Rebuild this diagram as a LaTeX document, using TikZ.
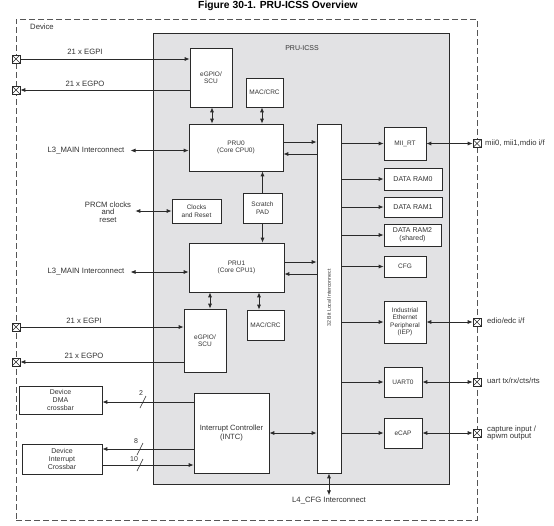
\documentclass[tikz,border=0pt]{standalone}
\usepackage{fontspec}
\setmainfont{Liberation Sans}
\usetikzlibrary{arrows.meta}
\newcommand{\fs}{\fontsize{6.5}{7.4}\selectfont}
\newcommand{\fsm}{\fontsize{7}{8}\selectfont}
\newcommand{\fsl}{\fontsize{7.7}{8.4}\selectfont}
\definecolor{ln}{HTML}{2A2A2A}
\definecolor{tx}{HTML}{333333}
\definecolor{grayfill}{HTML}{E2E2E4}
\begin{document}
\begin{tikzpicture}[x=1pt,y=-1pt,
  box/.style={draw=ln, fill=white, line width=0.7pt, align=center, font=\fs, text=tx, inner sep=1pt},
  wh/.style 2 args={minimum width=#1, minimum height=#2},
  lbl/.style={font=\fsl, text=tx, align=center, inner sep=1pt},
  arr/.style={draw=ln, line width=0.9pt, -{Latex[length=5pt,width=4.2pt]}},
  darr/.style={draw=ln, line width=0.9pt, {Latex[length=5pt,width=4.2pt]}-{Latex[length=5pt,width=4.2pt]}},
  conn/.style={draw=ln, fill=white, line width=0.6pt, minimum size=8pt, inner sep=0pt,
    path picture={\draw[ln, line width=0.5pt] (path picture bounding box.north west) -- (path picture bounding box.south east)
      (path picture bounding box.south west) -- (path picture bounding box.north east);}},
  slash/.style={draw=ln, line width=0.6pt}
]
\useasboundingbox[fill=white] (0,0) rectangle (554,525);

% title
\node[font=\bfseries\fontsize{10.3}{11}\selectfont, text=black] (title) at (278,6) {Figure 30-1. PRU-ICSS Overview};

% device dashed box
\node[draw=ln!80, dash pattern=on 6pt off 3pt, line width=0.7pt, minimum width=461pt, minimum height=501pt, inner sep=0] (device) at (246.5,269.5) {};
\node[lbl, anchor=west] (devlbl) at (29,27) {Device};

% PRU-ICSS box
\node[draw=ln, fill=grayfill, line width=1pt, minimum width=296pt, minimum height=451pt, inner sep=0] (icss) at (301,258.5) {};
\node[lbl, font=\fsm] (icsslbl) at (302,48) {PRU-ICSS};

% blocks
\node[box, wh={42pt}{59pt}] (egpioA) at (211,77.5) {eGPIO/\\SCU};
\node[box, wh={37pt}{29pt}] (macA) at (264.5,92.5) {MAC/CRC};
\node[box, wh={94pt}{47pt}] (pru0) at (236,147.5) {PRU0\\(Core CPU0)};
\node[box, wh={49pt}{24pt}] (clk) at (196.5,211) {Clocks\\and Reset};
\node[box, wh={39pt}{30pt}] (scratch) at (262.5,208) {Scratch\\PAD};
\node[box, wh={95pt}{49pt}] (pru1) at (236.5,267.5) {PRU1\\(Core CPU1)};
\node[box, wh={42pt}{63pt}] (egpioB) at (205,340.5) {eGPIO/\\SCU};
\node[box, wh={37pt}{30pt}] (macB) at (265.5,325) {MAC/CRC};
\node[box, wh={75pt}{80pt}, font=\fontsize{7.6}{8.4}\selectfont] (intc) at (231.5,433) {Interrupt Controller\\(INTC)};
\node[box, wh={24pt}{349pt}] (bus) at (329,298.5) {};
\node[font=\fontsize{5.2}{6}\selectfont, text=tx, rotate=90, inner sep=0] (buslbl) at (329,298) {32 Bit Local Interconnect};

\node[box, wh={42pt}{33pt}] (mii) at (405,143.5) {MII\_RT};
\node[box, wh={58pt}{22pt}, font=\fsm] (ram0) at (413,179) {DATA RAM0};
\node[box, wh={58pt}{20pt}, font=\fsm] (ram1) at (413,207) {DATA RAM1};
\node[box, wh={57pt}{22pt}, font=\fsm] (ram2) at (412.5,235) {DATA RAM2\\(shared)};
\node[box, wh={42pt}{21pt}] (cfg) at (405,266.5) {CFG};
\node[box, wh={42pt}{42pt}] (iep) at (405,322) {Industrial\\Ethernet\\Peripheral\\(IEP)};
\node[box, wh={38pt}{30pt}] (uart) at (403,382) {UART0};
\node[box, wh={38pt}{30pt}] (ecap) at (403,433) {eCAP};

\node[box, wh={83pt}{28pt}, font=\fsm] (dma) at (60.5,400) {Device\\DMA\\crossbar};
\node[box, wh={80pt}{30pt}, font=\fsm] (intx) at (62,459) {Device\\Interrupt\\Crossbar};

% connectors
\node[conn] (cL1) at (16,59) {};
\node[conn] (cL2) at (16,90) {};
\node[conn] (cL3) at (16,327) {};
\node[conn] (cL4) at (16,362) {};
\node[conn] (cR1) at (477,143.5) {};
\node[conn] (cR2) at (477,322) {};
\node[conn] (cR3) at (477,382) {};
\node[conn] (cR4) at (477,433) {};

% outside labels
\node[lbl] (egpiA) at (85,52) {21 x EGPI};
\node[lbl] (egpoA) at (85,84) {21 x EGPO};
\node[lbl] (l3a) at (86,150.5) {L3\_MAIN Interconnect};
\node[lbl] (prcm) at (108,212) {PRCM clocks\\[-1pt]and\\[-1pt]reset};
\node[lbl] (l3b) at (86,272) {L3\_MAIN Interconnect};
\node[lbl] (egpiB) at (84,321) {21 x EGPI};
\node[lbl] (egpoB) at (84,356) {21 x EGPO};
\node[lbl, anchor=west] (miilbl) at (484,143.5) {mii0, mii1,mdio i/f};
\node[lbl, anchor=west] (ediolbl) at (486,321) {edio/edc i/f};
\node[lbl, anchor=west] (uartlbl) at (486,381) {uart tx/rx/cts/rts};
\node[lbl, anchor=west, align=left] (caplbl) at (486,433) {capture input /\\[-1.5pt]apwm output};
\node[lbl] (l4) at (329,501) {L4\_CFG Interconnect};

% helper coordinates
\coordinate (y142) at (0,142);
\coordinate (y154) at (0,154);
\coordinate (y262) at (0,262);
\coordinate (y274) at (0,274);
\coordinate (y402) at (0,402);
\coordinate (y449) at (0,449);
\coordinate (y465) at (0,465);
\coordinate (x212) at (212,0);
\coordinate (x262) at (262,0);
\coordinate (x210) at (210,0);
\coordinate (x259) at (259,0);

% left I/O
\draw[arr] (cL1) -- (egpioA.west |- cL1);
\draw[arr] (egpioA.west |- cL2) -- (cL2);
\draw[arr] (cL3) -- (egpioB.west |- cL3);
\draw[arr] (egpioB.west |- cL4) -- (cL4);
\draw[darr, shorten <=5pt] (l3a.east) -- (pru0.west |- l3a);
\draw[darr, shorten <=5pt] (l3b.east) -- (pru1.west |- l3b);
\draw[darr, shorten <=3pt] (prcm.east |- clk) -- (clk.west);

% PRU internal
\draw[darr] (egpioA.south -| x212) -- (pru0.north -| x212);
\draw[darr] (macA.south -| x262) -- (pru0.north -| x262);
\draw[arr] (scratch.north) -- (pru0.south -| scratch);
\draw[arr] (scratch.south) -- (pru1.north -| scratch);
\draw[darr] (pru1.south -| x210) -- (egpioB.north -| x210);
\draw[darr] (pru1.south -| x259) -- (macB.north -| x259);
\draw[arr] (pru0.east |- y142) -- (bus.west |- y142);
\draw[arr] (bus.west |- y154) -- (pru0.east |- y154);
\draw[arr] (pru1.east |- y262) -- (bus.west |- y262);
\draw[arr] (bus.west |- y274) -- (pru1.east |- y274);
\draw[darr] (intc.east) -- (bus.west |- intc);

% bus to peripherals
\foreach \n in {mii,ram0,ram1,ram2,cfg,iep,uart,ecap}
  \draw[arr] (bus.east |- \n) -- (\n.west);
\draw[darr] (mii.east) -- (cR1.west);
\draw[darr] (iep.east) -- (cR2.west);
\draw[darr] (uart.east) -- (cR3.west);
\draw[darr] (ecap.east) -- (cR4.west);
\draw[darr, shorten >=1pt] (bus.south) -- (l4.north);

% interrupt lines
\draw[arr] (intc.west |- y402) -- (dma.east |- y402);
\draw[arr] (intc.west |- y449) -- (intx.east |- y449);
\draw[arr] (intx.east |- y465) -- (intc.west |- y465);
\draw[slash] (140,408) -- (146,396);
\draw[slash] (137,455) -- (143,443);
\draw[slash] (137,471) -- (143,459);
\node[lbl, font=\fsm] (n2) at (141,393) {2};
\node[lbl, font=\fsm] (n8) at (136,441) {8};
\node[lbl, font=\fsm] (n10) at (134,459) {10};
\end{tikzpicture}
\end{document}
